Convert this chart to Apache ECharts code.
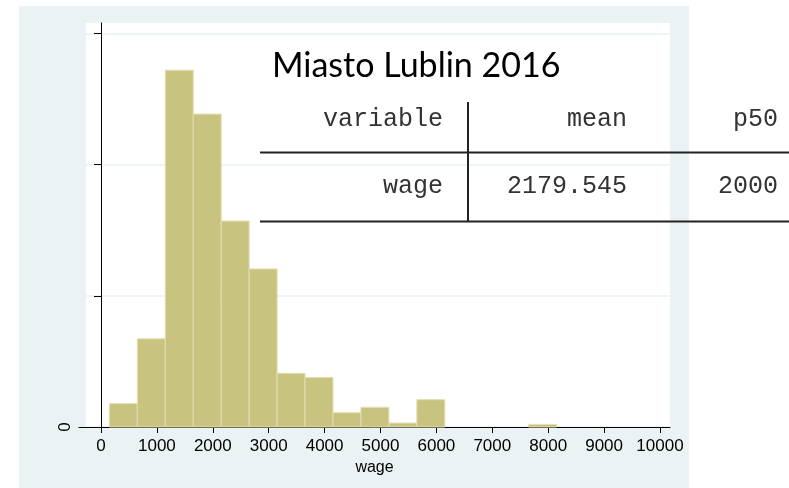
<!DOCTYPE html>
<html>
<head>
<meta charset="utf-8">
<script src="https://cdn.jsdelivr.net/npm/echarts@6/dist/echarts.min.js"></script>
<style>
  body { margin: 0; background: #fff; }
  #panel { position: absolute; left: 19px; top: 6px; width: 670px; height: 482px; background: #eaf2f3; }
  #plot { position: absolute; left: 86px; top: 23px; width: 584px; height: 404px; background: #fff; }
  #main { position: absolute; left: 0; top: 0; width: 789px; height: 488px; }
</style>
</head>
<body>
<div id="panel"></div>
<div id="plot"></div>
<div id="main"></div>
<script>
// histogram of wage, bins of width 500 starting at 150
var binLeft = [150, 650, 1150, 1650, 2150, 2650, 3150, 3650, 4150, 4650, 5150, 5650, 7650];
var binWidth = 500;
var density = [0.0000356, 0.0001344, 0.000544, 0.000477, 0.000314, 0.000241, 0.0000818, 0.0000756, 0.0000218, 0.00003, 0.000006, 0.0000416, 0.000004];

var xTicks = [0, 1000, 2000, 3000, 4000, 5000, 6000, 7000, 8000, 9000, 10000];
var yTicks = [0, 0.0002, 0.0004, 0.0006];
var yLabels = [0];

var titleText = 'Miasto Lublin 2016';
var tableHead = ['variable', 'mean', 'p50'];
var tableRow = ['wage', '2179.545', '2000'];

var bars = [];
for (var i = 0; i < binLeft.length; i++) {
  bars.push([binLeft[i], binLeft[i] + binWidth, density[i]]);
}

var chart = echarts.init(document.getElementById('main'));

var monoFont = '25px "Liberation Mono", "Courier New", monospace';
var colRight = [443, 627, 778];
var tableGraphic = [];
for (var c = 0; c < 3; c++) {
  tableGraphic.push({
    type: 'text', x: colRight[c], y: 119, z: 10,
    style: { text: tableHead[c], fill: '#333', font: monoFont, textAlign: 'right', textVerticalAlign: 'middle' }
  });
  tableGraphic.push({
    type: 'text', x: colRight[c], y: 186, z: 10,
    style: { text: tableRow[c], fill: '#333', font: monoFont, textAlign: 'right', textVerticalAlign: 'middle' }
  });
}
tableGraphic.push(
  { type: 'line', z: 10, shape: { x1: 260, y1: 152.5, x2: 789, y2: 152.5 }, style: { stroke: '#222', lineWidth: 2 } },
  { type: 'line', z: 10, shape: { x1: 260, y1: 221.5, x2: 789, y2: 221.5 }, style: { stroke: '#222', lineWidth: 2 } },
  { type: 'line', z: 10, shape: { x1: 468, y1: 102, x2: 468, y2: 222 }, style: { stroke: '#222', lineWidth: 2 } },
  {
    type: 'text', x: 272, y: 66, z: 10,
    style: { text: titleText, fill: '#000', font: '34px Lato, "Open Sans", sans-serif', textAlign: 'left', textVerticalAlign: 'middle' }
  }
);

var option = {
  animation: false,
  backgroundColor: 'transparent',
  grid: { left: 79, right: 119, top: 23, bottom: 61, containLabel: false },
  xAxis: {
    type: 'value',
    min: -393.6,
    max: 10178.9,
    name: 'wage',
    nameLocation: 'middle',
    nameGap: 27,
    nameTextStyle: { fontSize: 16, color: '#000', fontFamily: '"Liberation Sans", Arial, sans-serif' },
    axisLine: { show: true, onZero: false, lineStyle: { color: '#000', width: 1 } },
    axisTick: { show: true, length: 6, customValues: xTicks, lineStyle: { color: '#000' } },
    axisLabel: {
      customValues: xTicks, fontSize: 17, color: '#000', margin: 11,
      fontFamily: '"Liberation Sans", Arial, sans-serif',
      formatter: function (v) { return String(v); }
    },
    splitLine: { show: false }
  },
  yAxis: {
    type: 'value',
    min: 0,
    max: 0.0006159,
    offset: -7,
    axisLine: { show: true, lineStyle: { color: '#000', width: 1 } },
    axisTick: { show: true, length: 7, customValues: yTicks, lineStyle: { color: '#000' } },
    axisLabel: {
      customValues: yLabels, rotate: 90, fontSize: 17, color: '#000', margin: 12,
      fontFamily: '"Liberation Sans", Arial, sans-serif',
      formatter: function (v) { return String(v); }
    },
    splitLine: { show: true, customValues: yTicks, lineStyle: { color: '#eaf2f3', width: 1.5 } }
  },
  series: [{
    type: 'custom',
    data: bars,
    encode: { x: [0, 1], y: 2 },
    renderItem: function (params, api) {
      var p0 = api.coord([api.value(0), api.value(2)]);
      var p1 = api.coord([api.value(1), 0]);
      return {
        type: 'rect',
        shape: { x: p0[0], y: p0[1], width: p1[0] - p0[0], height: p1[1] - p0[1] },
        style: { fill: '#c9c380', stroke: '#e2deb0', lineWidth: 1 }
      };
    }
  }],
  graphic: tableGraphic
};

chart.setOption(option);
</script>
</body>
</html>
